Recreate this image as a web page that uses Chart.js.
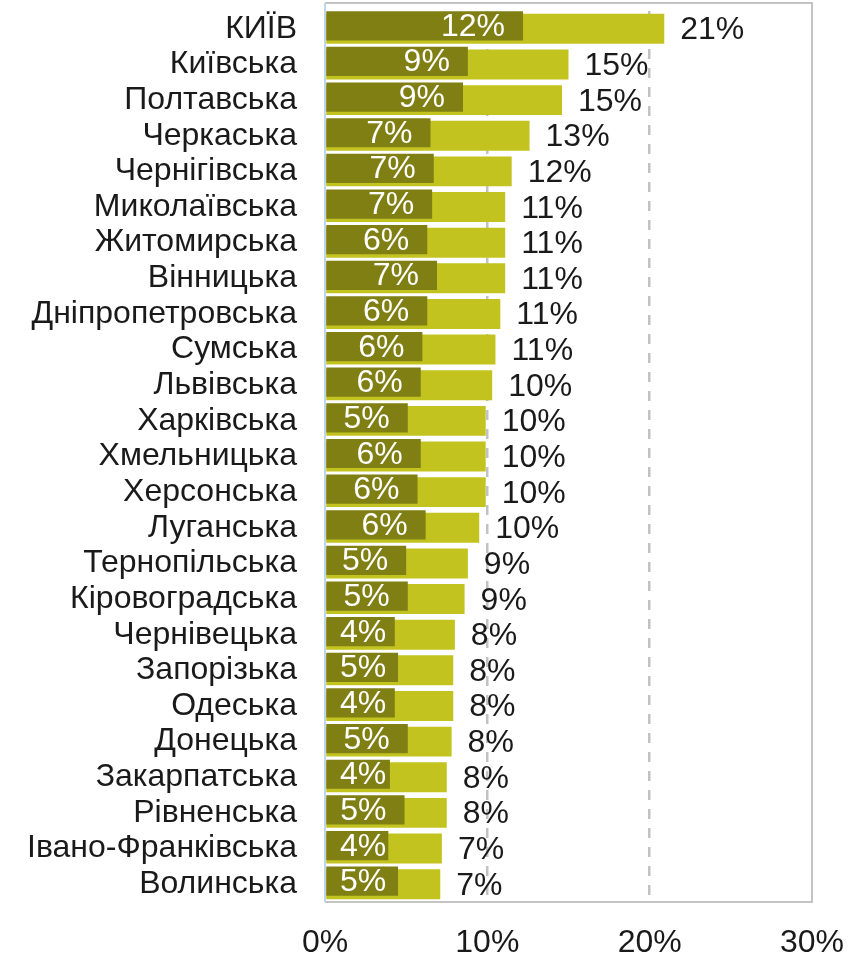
<!DOCTYPE html>
<html>
<head>
<meta charset="utf-8">
<title>Regions</title>
<script src="https://cdn.jsdelivr.net/npm/chart.js@4.4.1/dist/chart.umd.min.js"></script>
<style>
  html, body { margin: 0; padding: 0; background: #fff; }
  #wrap { position: relative; width: 866px; height: 953px; }
</style>
</head>
<body>
<div id="wrap"><canvas id="myChart"></canvas></div>
<script>
// regions, top to bottom
var regions = ['КИЇВ', 'Київська', 'Полтавська', 'Черкаська', 'Чернігівська', 'Миколаївська',
  'Житомирська', 'Вінницька', 'Дніпропетровська', 'Сумська', 'Львівська', 'Харківська',
  'Хмельницька', 'Херсонська', 'Луганська', 'Тернопільська', 'Кіровоградська', 'Чернівецька',
  'Запорізька', 'Одеська', 'Донецька', 'Закарпатська', 'Рівненська', 'Івано-Франківська', 'Волинська'];
// inner (dark) values, %
var darkValues = [12.2, 8.8, 8.5, 6.5, 6.7, 6.6, 6.3, 6.9, 6.3, 6.0, 5.9, 5.1, 5.9, 5.7, 6.2,
  5.0, 5.1, 4.3, 4.5, 4.3, 5.1, 4.0, 4.9, 3.9, 4.5];
// outer (light) values, %
var lightValues = [20.9, 15.0, 14.6, 12.6, 11.5, 11.1, 11.1, 11.1, 10.8, 10.5, 10.3, 9.9, 9.9, 9.9, 9.5,
  8.8, 8.6, 8.0, 7.9, 7.9, 7.8, 7.5, 7.5, 7.2, 7.1];
var xTicks = [0, 10, 20, 30];

var FONT = 'Arial, "Liberation Sans", sans-serif';
var FSIZE = 32;

// dark bars sit a little higher than the light ones
var shiftPlugin = {
  id: 'shift',
  beforeDatasetDraw: function(chart, args) {
    if (args.index === 0) { chart.ctx.save(); chart.ctx.translate(0, -3); }
  },
  afterDatasetDraw: function(chart, args) {
    if (args.index === 0) chart.ctx.restore();
  }
};

var labelPlugin = {
  id: 'labels',
  afterDatasetsDraw: function(chart) {
    var ctx = chart.ctx;
    var a = chart.chartArea;
    var top = a.top - 8;
    // frame
    ctx.save();
    ctx.lineWidth = 2;
    ctx.strokeStyle = '#c4c4c4';
    ctx.beginPath();
    ctx.moveTo(a.left, top); ctx.lineTo(a.right, top);
    ctx.lineTo(a.right, a.bottom); ctx.lineTo(a.left, a.bottom);
    ctx.stroke();
    ctx.strokeStyle = '#bcd6ec';
    ctx.beginPath();
    ctx.moveTo(a.left, top); ctx.lineTo(a.left, a.bottom);
    ctx.stroke();

    ctx.font = FSIZE + 'px ' + FONT;
    ctx.textBaseline = 'alphabetic';
    var dark = chart.getDatasetMeta(0).data;
    var light = chart.getDatasetMeta(1).data;
    ctx.fillStyle = '#ffffff';
    ctx.textAlign = 'left';
    dark.forEach(function(bar, i) {
      var txt = Math.round(darkValues[i]) + '%';
      var w = ctx.measureText(txt).width;
      // inside end, but never closer than 15px to the axis
      var x = Math.max(bar.x - 18 - w, a.left + 15);
      ctx.fillText(txt, x, bar.y + 7);
    });
    ctx.fillStyle = '#1a1a1a';
    light.forEach(function(bar, i) {
      ctx.fillText(Math.round(lightValues[i]) + '%', bar.x + 16, bar.y + 10.5);
    });
    ctx.restore();
  }
};

var ctx = document.getElementById('myChart').getContext('2d');
var chart = new Chart(ctx, {
  type: 'bar',
  data: {
    labels: regions,
    datasets: [{
      label: 'dark',
      data: darkValues,
      backgroundColor: '#807f14',
      barPercentage: 0.82,
      categoryPercentage: 1
    }, {
      label: 'light',
      data: lightValues,
      backgroundColor: '#c3c31f',
      barPercentage: 0.84,
      categoryPercentage: 1
    }]
  },
  options: {
    indexAxis: 'y',
    responsive: true,
    maintainAspectRatio: false,
    animation: false,
    layout: { padding: { top: 11, right: 54, bottom: 0, left: 0 } },
    plugins: { legend: { display: false }, tooltip: { enabled: false } },
    datasets: { bar: { grouped: false } },
    scales: {
      x: {
        min: 0, max: 30,
        afterBuildTicks: function(axis) {
          axis.ticks = xTicks.map(function(v) { return { value: v }; });
        },
        afterFit: function(axis) {
          axis.height = 51;
          axis.paddingLeft = 0; axis.paddingRight = 0;
        },
        ticks: {
          padding: 22,
          color: '#1a1a1a',
          maxRotation: 0,
          font: { family: FONT, size: FSIZE },
          callback: function(v) { return v + '%'; }
        },
        grid: {
          drawTicks: false,
          lineWidth: 2.5,
          color: function(c) {
            return (c.tick && (c.tick.value === 10 || c.tick.value === 20)) ? '#c2c2c2' : 'rgba(0,0,0,0)';
          }
        },
        border: { display: false, dash: [10, 9] }
      },
      y: {
        afterFit: function(axis) {
          axis.width = 325;
          axis.paddingTop = 0; axis.paddingBottom = 0;
        },
        ticks: {
          padding: 28,
          color: '#1a1a1a',
          autoSkip: false,
          font: { family: FONT, size: FSIZE }
        },
        grid: { display: false, drawTicks: false },
        border: { display: false }
      }
    }
  },
  plugins: [shiftPlugin, labelPlugin]
});
</script>
</body>
</html>
